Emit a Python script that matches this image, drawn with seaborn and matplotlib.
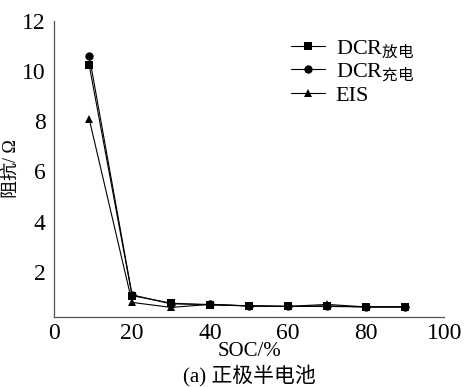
import pandas as pd
import matplotlib
matplotlib.use("Agg")
import matplotlib.pyplot as plt
import seaborn as sns

# значения
soc = [9, 20, 30, 40, 50, 60, 70, 80, 90]
dcr_discharge = [10.25, 1.05, 0.75, 0.68, 0.64, 0.62, 0.62, 0.60, 0.60]
dcr_charge = [10.62, 1.08, 0.72, 0.70, 0.64, 0.62, 0.64, 0.60, 0.60]
eis = [8.1, 0.78, 0.58, 0.70, 0.64, 0.62, 0.70, 0.60, 0.60]
labels = ["DCR$_{\\mathrm{放电}}$", "DCR$_{\\mathrm{充电}}$", "EIS"]

sns.set_style("white")
plt.rcParams["font.family"] = ["Liberation Serif", "Noto Sans CJK SC"]
plt.rcParams["mathtext.fontset"] = "custom"
plt.rcParams["mathtext.rm"] = "Noto Sans CJK SC"
plt.rcParams["text.color"] = "black"
plt.rcParams["axes.labelcolor"] = "black"
plt.rcParams["xtick.labelcolor"] = "black"
plt.rcParams["ytick.labelcolor"] = "black"

df = pd.concat(
    [
        pd.DataFrame({"soc": soc, "r": vals, "series": lab})
        for vals, lab in zip([dcr_discharge, dcr_charge, eis], labels)
    ]
)

fig = plt.figure(figsize=(4.7, 3.87), dpi=100)
ax = fig.add_axes([0.115, 0.181, 0.83, 0.765])

sns.lineplot(
    data=df,
    x="soc",
    y="r",
    hue="series",
    style="series",
    markers={labels[0]: "s", labels[1]: "o", labels[2]: "^"},
    dashes=False,
    palette=["black", "black", "black"],
    linewidth=0.8,
    markersize=6,
    markeredgewidth=0,
    ax=ax,
)

ax.set_xlim(0, 100)
ax.set_ylim(0.2, 12)
ax.set_xticks([0, 20, 40, 60, 80, 100])
ax.set_yticks([2, 4, 6, 8, 10, 12])
ax.tick_params(direction="in", length=4, width=0.8, labelsize=17, color="#555555", pad=6)
ax.tick_params(axis="x", pad=4)
sns.despine(ax=ax)
for s in ["left", "bottom"]:
    ax.spines[s].set_color("#555555")
    ax.spines[s].set_linewidth(0.9)

ax.set_xlabel("SOC/%", fontsize=15, labelpad=-1)
ax.set_ylabel("阻抗/ Ω", fontsize=13, labelpad=2)
fig.text(0.53, 0.002, "(a) 正极半电池", ha="center", va="bottom", fontsize=15)

leg = ax.legend(
    loc="upper left",
    bbox_to_anchor=(0.58, 0.98),
    frameon=False,
    fontsize=16,
    handlelength=1.5,
    handletextpad=0.5,
    labelspacing=0.05,
    borderpad=0,
)

plt.savefig("out.png", dpi=100)
